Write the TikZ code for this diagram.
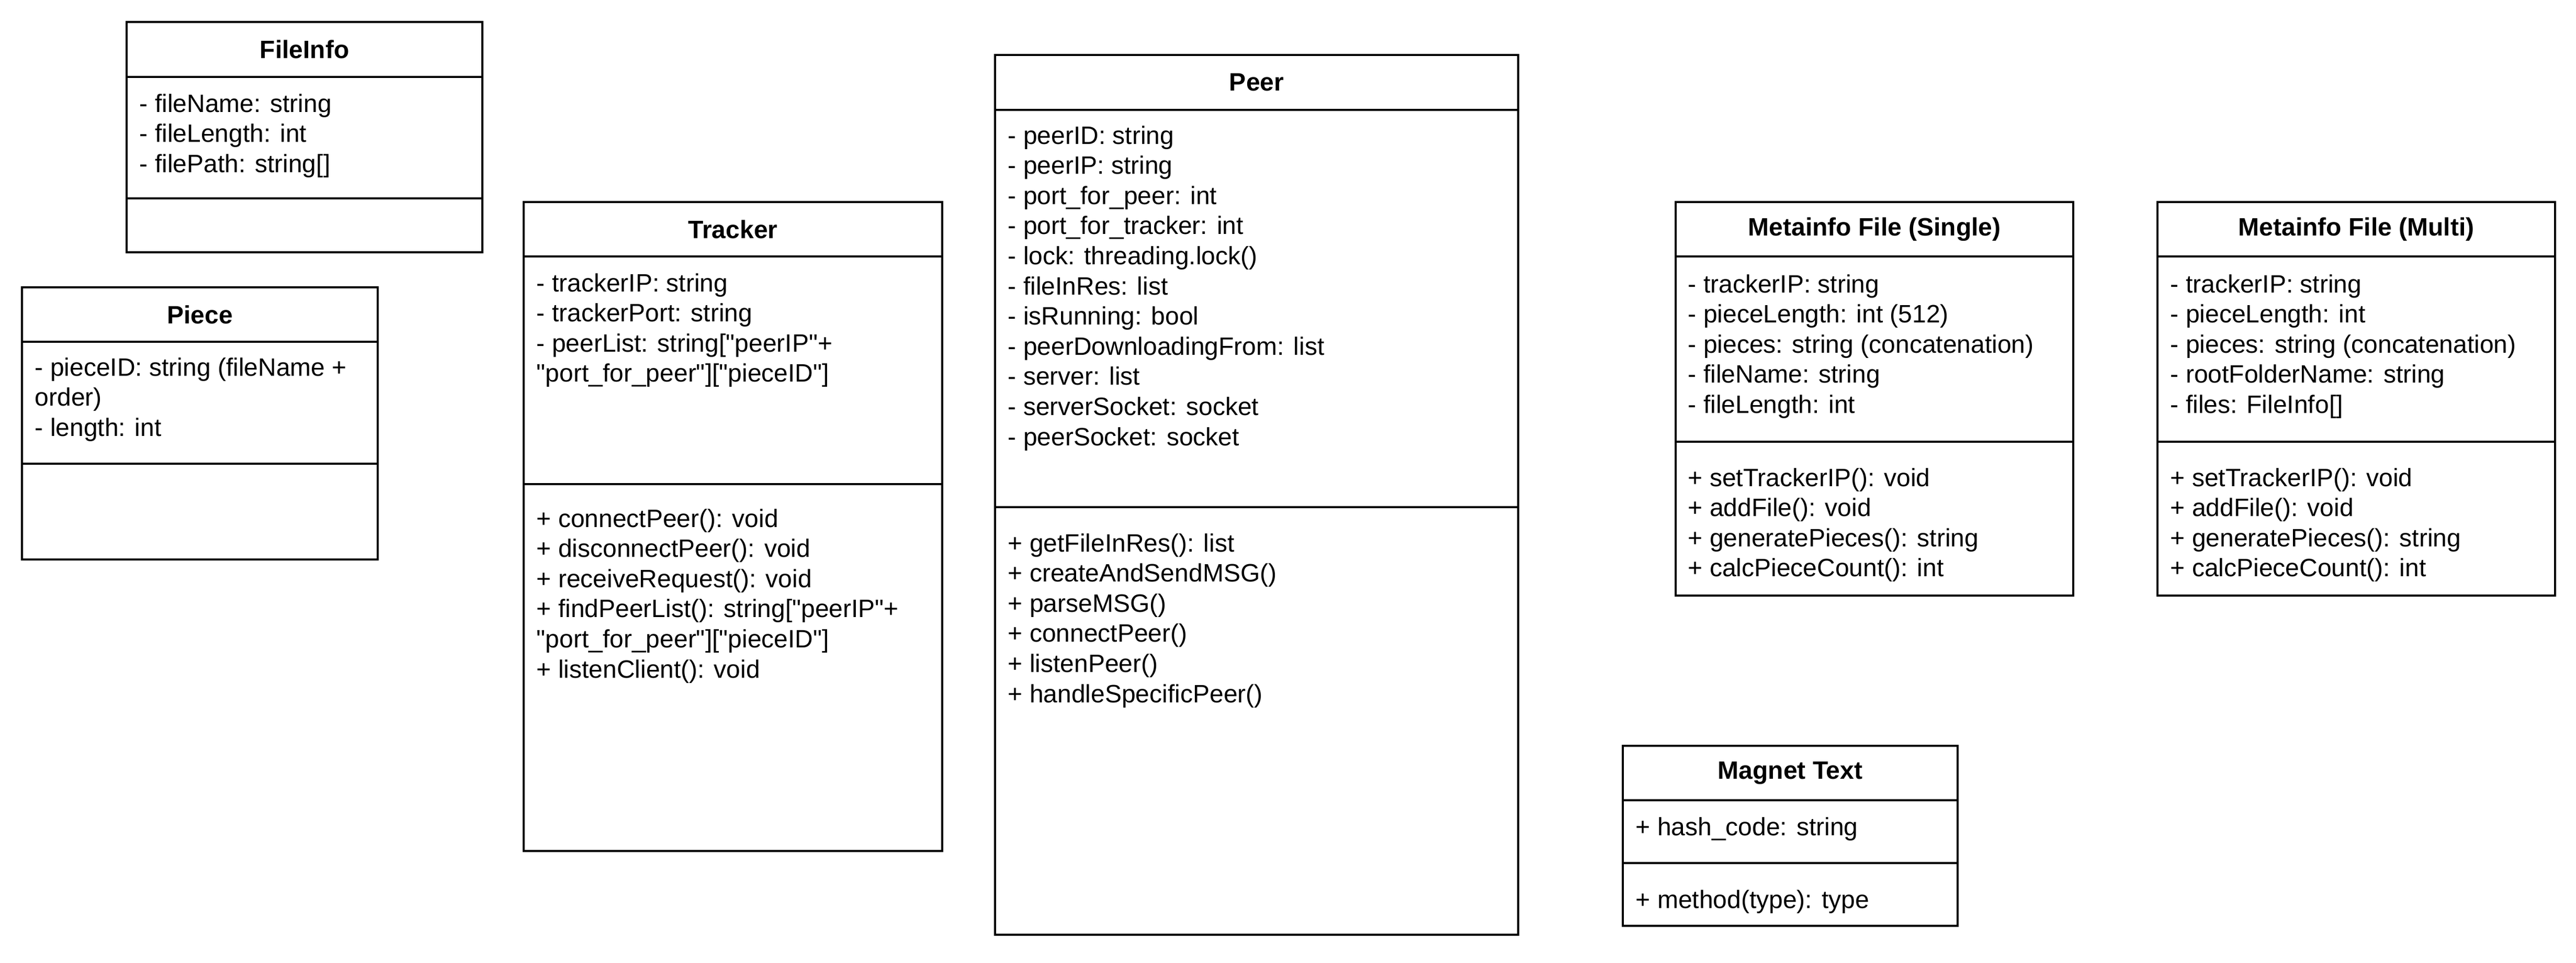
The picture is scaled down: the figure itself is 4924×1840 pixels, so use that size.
\documentclass[tikz,border=0pt]{standalone}
\usepackage{fontspec}
\setmainfont{Liberation Sans}[Ligatures=TeXOff]
\usepackage{tikz}
\usetikzlibrary{positioning}

\begin{document}
\begin{tikzpicture}[
            x=0.25pt, y=-0.25pt,
            classbox/.style={draw, line width=1.1pt},
            classline/.style={line width=0.8pt},
            classtitle/.style={inner sep=0pt, font=\fontsize{12pt}{14.4pt}\selectfont\bfseries},
            members/.style={anchor=north west, inner sep=0pt, align=left, font=\fontsize{12pt}{14.4pt}\selectfont},
            auto
        ]
            \useasboundingbox (0,0) rectangle (4924,1840);
            % Boxes
            \draw[classbox] (242,42) rectangle (922,482);     % FileInfo
            \draw[classbox] (42,549) rectangle (722,1069);    % Piece
            \draw[classbox] (1001,386) rectangle (1801,1626); % Tracker
            \draw[classbox] (1902,105) rectangle (2902,1786); % Peer
            \draw[classbox] (3203,386) rectangle (3963,1138); % Metainfo single
            \draw[classbox] (4124,386) rectangle (4884,1138); % Metainfo multi
            \draw[classbox] (3102,1425) rectangle (3742,1769);% Magnet text
            % Compartments
            \draw[classline] (242,147) -- (922,147);
            \draw[classline] (242,379) -- (922,379);
            \draw[classline] (42,653) -- (722,653);
            \draw[classline] (42,886) -- (722,886);
            \draw[classline] (1001,490) -- (1801,490);
            \draw[classline] (1001,925) -- (1801,925);
            \draw[classline] (1902,210) -- (2902,210);
            \draw[classline] (1902,969) -- (2902,969);
            \draw[classline] (3203,490) -- (3963,490);
            \draw[classline] (3203,844) -- (3963,844);
            \draw[classline] (4124,490) -- (4884,490);
            \draw[classline] (4124,844) -- (4884,844);
            \draw[classline] (3102,1529) -- (3742,1529);
            \draw[classline] (3102,1649) -- (3742,1649);
            % Titles
            \node[classtitle] (fileinfo) at (582,94.5) {FileInfo};
            \node[classtitle] (piece) at (382,601) {Piece};
            \node[classtitle] (tracker) at (1401,438) {Tracker};
            \node[classtitle] (peer) at (2402,157.5) {Peer};
            \node[classtitle] (single) at (3583,438) {Metainfo File (Single)};
            \node[classtitle] (multi) at (4504,438) {Metainfo File (Multi)};
            \node[classtitle] (magnet) at (3422,1477) {Magnet Text};
            % Attributes
            \node[members] (fileinfoattr) at (266,173) {\strut- fileName: string\\- fileLength: int\\- filePath: string[]};
            \node[members] (pieceattr) at (66,677) {\strut- pieceID: string (fileName +\\order)\\- length: int};
            \node[members] (trackerattr) at (1025,516) {\strut- trackerIP: string\\- trackerPort: string\\- peerList: string["peerIP"+\\"port\_for\_peer"]["pieceID"]};
            \node[members] (peerattr) at (1926,234) {\strut- peerID: string\\- peerIP: string\\- port\_for\_peer: int\\- port\_for\_tracker: int\\- lock: threading.lock()\\- fileInRes: list\\- isRunning: bool\\- peerDownloadingFrom: list\\- server: list\\- serverSocket: socket\\- peerSocket: socket};
            \node[members] (singleattr) at (3226,518) {\strut- trackerIP: string\\- pieceLength: int (512)\\- pieces: string (concatenation)\\- fileName: string\\- fileLength: int};
            \node[members] (multiattr) at (4148,518) {\strut- trackerIP: string\\- pieceLength: int\\- pieces: string (concatenation)\\- rootFolderName: string\\- files: FileInfo[]};
            \node[members] (magnetattr) at (3126,1555) {\strut+ hash\_code: string};
            % Methods
            \node[members] (trackerop) at (1025,966) {\strut+ connectPeer(): void\\+ disconnectPeer(): void\\+ receiveRequest(): void\\+ findPeerList(): string["peerIP"+\\"port\_for\_peer"]["pieceID"]\\+ listenClient(): void};
            \node[members] (peerop) at (1926,1013) {\strut+ getFileInRes(): list\\+ createAndSendMSG()\\+ parseMSG()\\+ connectPeer()\\+ listenPeer()\\+ handleSpecificPeer()};
            \node[members] (singleop) at (3226,888) {\strut+ setTrackerIP(): void\\+ addFile(): void\\+ generatePieces(): string\\+ calcPieceCount(): int};
            \node[members] (multiop) at (4148,888) {\strut+ setTrackerIP(): void\\+ addFile(): void\\+ generatePieces(): string\\+ calcPieceCount(): int};
            \node[members] (magnetop) at (3126,1694) {\strut+ method(type): type};
        \end{tikzpicture}
\end{document}
